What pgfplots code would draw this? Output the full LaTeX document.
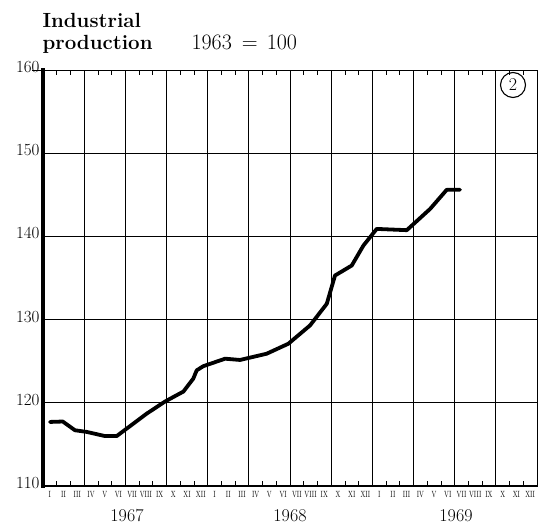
\documentclass[border=0pt]{standalone}
\usepackage{fontspec}
\usepackage{pgfplots}
\pgfplotsset{compat=1.18}
\pgfplotstableread{
m v
0.51 117.7
1.44 117.75
2.33 116.7
3.19 116.5
4.52 116.0
5.37 116.0
6.10 116.9
7.56 118.7
8.89 120.15
10.23 121.35
10.95 122.9
11.20 123.9
11.68 124.4
13.27 125.3
14.36 125.15
16.30 125.9
17.88 127.1
19.46 129.3
20.68 131.9
21.28 135.3
22.50 136.5
23.35 138.9
24.32 140.9
26.51 140.75
28.21 143.3
29.42 145.6
30.39 145.6
}\production
\begin{document}
\begin{tikzpicture}[x=1pt,y=1pt]
\useasboundingbox (0,0) rectangle (538,525);
\begin{axis}[
  at={(43pt,39pt)}, anchor=south west,
  scale only axis, width=494pt, height=416pt,
  xmin=0, xmax=36, ymin=110, ymax=160,
  axis line style={line width=0.7pt, black},
  /pgf/number format/assume math mode=true,
  xtick={0.5,1.5,...,35.5},
  xticklabels={I,II,III,IV,V,VI,VII,VIII,IX,X,XI,XII,I,II,III,IV,V,VI,VII,VIII,IX,X,XI,XII,I,II,III,IV,V,VI,VII,VIII,IX,X,XI,XII},
  major x tick style={draw=none},
  minor xtick={1,2,4,5,7,8,10,11,13,14,16,17,19,20,22,23,25,26,28,29,31,32,34,35},
  minor tick length=5pt,
  minor x tick style={line width=0.7pt, black},
  tick align=inside,
  xtick pos=both,
  xticklabel pos=lower,
  xticklabel style={font=\fontsize{9}{10}\selectfont, xscale=0.7, yshift=-1.5pt},
  extra x ticks={3,6,9,12,15,18,21,24,27,30,33},
  extra x tick labels={},
  extra x tick style={grid=major, major tick length=0pt, major grid style={line width=0.7pt, black}},
  ytick={110,120,130,140,150,160},
  yticklabels={110,120,130,140,150,160},
  ymajorgrids,
  major y grid style={line width=0.7pt, black},
  ytick pos=left,
  major y tick style={draw=none},
  yticklabel style={font=\fontsize{17}{19}\selectfont, yshift=3pt, xshift=0pt},
  clip=false,
]
\addplot[line width=3.8pt, black, line join=round, line cap=round] table[x=m, y=v] {\production};
\draw[line width=0.7pt] (axis cs:-0.8,160) -- (axis cs:0,160);
\draw[line width=1.2pt] (axis cs:12,110) -- (axis cs:12,160);
\draw[line width=1.1pt] (axis cs:24,110) -- (axis cs:24,160);
\draw[line width=3.8pt, line cap=rect] (axis cs:0,110) -- (axis cs:0,160);
\draw[line width=2.6pt, line cap=rect] (axis cs:0,110) -- (axis cs:36,110);
\end{axis}
\node[anchor=base west, font=\fontsize{20.5}{23}\selectfont\bfseries] at (39,497) {Industrial};
\node[anchor=base west, font=\fontsize{20.5}{23}\selectfont\bfseries] at (39,475) {production};
\node[anchor=base west, font=\fontsize{22}{24}\selectfont] at (188,475) {1963\hspace{10pt}=\hspace{9pt}100};
\node[anchor=base, font=\fontsize{18}{20}\selectfont] at (127,4) {1967};
\node[anchor=base, font=\fontsize{18}{20}\selectfont] at (290,4) {1968};
\node[anchor=base, font=\fontsize{18}{20}\selectfont] at (456,4) {1969};
\node[circle, draw, line width=1.1pt, minimum size=25pt, inner sep=0pt, font=\fontsize{18}{20}\selectfont] at (513,440) {2};
\end{tikzpicture}
\end{document}
